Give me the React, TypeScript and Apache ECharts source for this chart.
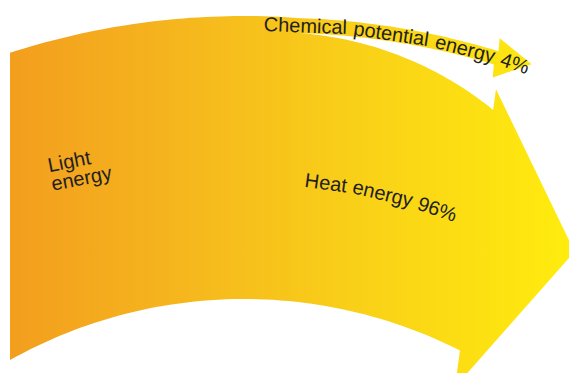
import React, { useEffect, useRef } from "react";
import * as echarts from "echarts";

// ---------- data ----------
const sourceLines = ["Light", "energy"];
const flowNames = ["Heat energy", "Chemical potential energy"];
const flowShares = [96, 4]; // percent of the incoming light energy

// ---------- geometry / style ----------
const WIDTH = 569;
const HEIGHT = 373;
const CX = 244;
const CY = 778;
const R_IN = 479;
const R_OUT = 762;
const X_LEFT = 10;
const SPLIT_DEG = 4.3;
const CHEM_END_DEG = 19.3;
const CHEM_LOW_START = 747;
const HEAT_TOP_END_DEG = 20.45;
const HEAT_TOP_END_R = 713;
const HEAT_LOW_END_DEG = 26.8;
const FS = 20;
const FONT = `${FS}px "Liberation Sans", Arial, Helvetica, sans-serif`;
const TEXT_COLOR = "#231f20";

const rad = (d: number) => (d * Math.PI) / 180;
const deg = (r: number) => (r * 180) / Math.PI;
const P = (r: number, d: number): [number, number] => [CX + r * Math.sin(rad(d)), CY - r * Math.cos(rad(d))];

function range(a: number, b: number, n: number) {
  const out: number[] = [];
  for (let i = 0; i <= n; i++) out.push(a + ((b - a) * i) / n);
  return out;
}

function buildOutline(): [number, number][] {
  const pts: [number, number][] = [];
  const thLT = deg(Math.asin((X_LEFT - CX) / R_OUT));
  const thLB = deg(Math.asin((X_LEFT - CX) / R_IN));
  const chemT = (t: number) => (t - SPLIT_DEG) / (CHEM_END_DEG - SPLIT_DEG);
  // top edge
  range(thLT, SPLIT_DEG, 40).forEach((t) => pts.push(P(R_OUT, t)));
  // chemical band upper edge
  range(SPLIT_DEG, CHEM_END_DEG, 30).forEach((t) => pts.push(P(R_OUT + 8 * chemT(t), t)));
  // chemical arrowhead
  const Uc = P(R_OUT + 8, CHEM_END_DEG);
  const Lc = P(CHEM_LOW_START + 9, CHEM_END_DEG);
  const mc = [(Uc[0] + Lc[0]) / 2, (Uc[1] + Lc[1]) / 2];
  const a = rad(10);
  const n = [Math.cos(a), Math.sin(a)];
  const u = [n[1], -n[0]];
  pts.push(Uc);
  pts.push([mc[0] + 20 * u[0], mc[1] + 20 * u[1]]);
  pts.push([mc[0] + 36 * n[0], mc[1] + 36 * n[1]]);
  pts.push([mc[0] - 20 * u[0], mc[1] - 20 * u[1]]);
  pts.push(Lc);
  // chemical band lower edge (back to split)
  range(CHEM_END_DEG, SPLIT_DEG, 30).forEach((t) => pts.push(P(CHEM_LOW_START + 9 * chemT(t), t)));
  // heat band top edge
  range(SPLIT_DEG, HEAT_TOP_END_DEG, 40).forEach((t) => {
    const k = (t - SPLIT_DEG) / (HEAT_TOP_END_DEG - SPLIT_DEG);
    pts.push(P(CHEM_LOW_START - (CHEM_LOW_START - HEAT_TOP_END_R) * k * k, t));
  });
  // heat arrowhead
  const T = P(HEAT_TOP_END_R, HEAT_TOP_END_DEG);
  const L = P(R_IN, HEAT_LOW_END_DEG);
  const len = Math.hypot(T[0] - L[0], T[1] - L[1]);
  const hu = [(T[0] - L[0]) / len, (T[1] - L[1]) / len];
  const hn = [-hu[1], hu[0]];
  const ub: [number, number] = [T[0] + 21 * hu[0], T[1] + 21 * hu[1]];
  const lb: [number, number] = [L[0] - 37 * hu[0], L[1] - 37 * hu[1]];
  const hm = [(ub[0] + lb[0]) / 2, (ub[1] + lb[1]) / 2];
  pts.push(T);
  pts.push(ub);
  pts.push([hm[0] + 100 * hn[0], hm[1] + 100 * hn[1]]);
  pts.push(lb);
  pts.push(L);
  // lower edge
  range(HEAT_LOW_END_DEG, thLB, 60).forEach((t) => pts.push(P(R_IN, t)));
  return pts;
}

let measureCtx: CanvasRenderingContext2D | null = null;
function textWidth(s: string) {
  if (!measureCtx) measureCtx = document.createElement("canvas").getContext("2d");
  if (!measureCtx) return s.length * FS * 0.55;
  measureCtx.font = FONT;
  return measureCtx.measureText(s).width;
}

function arcWords(text: string, startDeg: number, r0: number, drPerDeg: number) {
  const words = text.split(" ");
  const space = textWidth(" ");
  let s = 0;
  const out: { text: string; x: number; y: number; rot: number }[] = [];
  words.forEach((w) => {
    const ww = textWidth(w);
    const sc = s + ww / 2;
    const th = startDeg + deg(sc / r0);
    const rb = r0 + drPerDeg * (th - startDeg);
    const p = P(rb + 0.35 * FS, th);
    const tilt = deg(Math.atan(drPerDeg / (rad(1) * rb)));
    out.push({ text: w, x: p[0], y: p[1], rot: -rad(th - tilt) });
    s += ww + space;
  });
  return out;
}

export default function App() {
  const ref = useRef<HTMLDivElement>(null);
  useEffect(() => {
    if (!ref.current) return;
    const chart = echarts.init(ref.current, null, { renderer: "svg" });
    const heatText = `${flowNames[0]} ${flowShares[0]}%`;
    const chemText = `${flowNames[1]} ${flowShares[1]}%`;
    const gradient = {
      type: "linear",
      x: X_LEFT,
      y: 0,
      x2: WIDTH,
      y2: 0,
      global: true,
      colorStops: [
        { offset: 0, color: "#F39E1E" },
        { offset: 0.35, color: "#F6BA1D" },
        { offset: 0.62, color: "#F9D018" },
        { offset: 1, color: "#FFEC0E" },
      ],
    };
    const textStyle = (t: string, align: string, vAlign: string) => ({
      text: t,
      fill: TEXT_COLOR,
      font: FONT,
      textAlign: align,
      textVerticalAlign: vAlign,
      align,
      verticalAlign: vAlign,
      lineHeight: 19,
    });
    chart.setOption({
      animation: false,
      backgroundColor: "#ffffff",
      grid: { left: 0, right: 0, top: 0, bottom: 0 },
      xAxis: { type: "value", min: 0, max: WIDTH, show: false },
      yAxis: { type: "value", min: 0, max: HEIGHT, inverse: true, show: false },
      series: [
        {
          type: "custom",
          coordinateSystem: "cartesian2d",
          silent: true,
          data: [[0, 0]],
          renderItem: (_params: any, api: any) => {
            const pts = buildOutline().map((p) => api.coord(p));
            const children: any[] = [
              { type: "polygon", shape: { points: pts }, style: { fill: gradient } },
            ];
            const lp = api.coord([46, 156]);
            children.push({
              type: "text",
              x: lp[0],
              y: lp[1],
              rotation: rad(11),
              style: textStyle(sourceLines.join("\n"), "left", "top"),
            });
            [...arcWords(heatText, 5.8, 594, 0), ...arcWords(chemText, 1.46, 746, 0.6)].forEach((w) => {
              const c = api.coord([w.x, w.y]);
              children.push({
                type: "text",
                x: c[0],
                y: c[1],
                rotation: w.rot,
                style: textStyle(w.text, "center", "middle"),
              });
            });
            return { type: "group", children };
          },
        },
      ],
    });
    return () => chart.dispose();
  }, []);
  return (
    <div
      ref={ref}
      style={{ position: "fixed", left: 0, top: 0, width: WIDTH, height: HEIGHT, background: "#fff" }}
    />
  );
}
